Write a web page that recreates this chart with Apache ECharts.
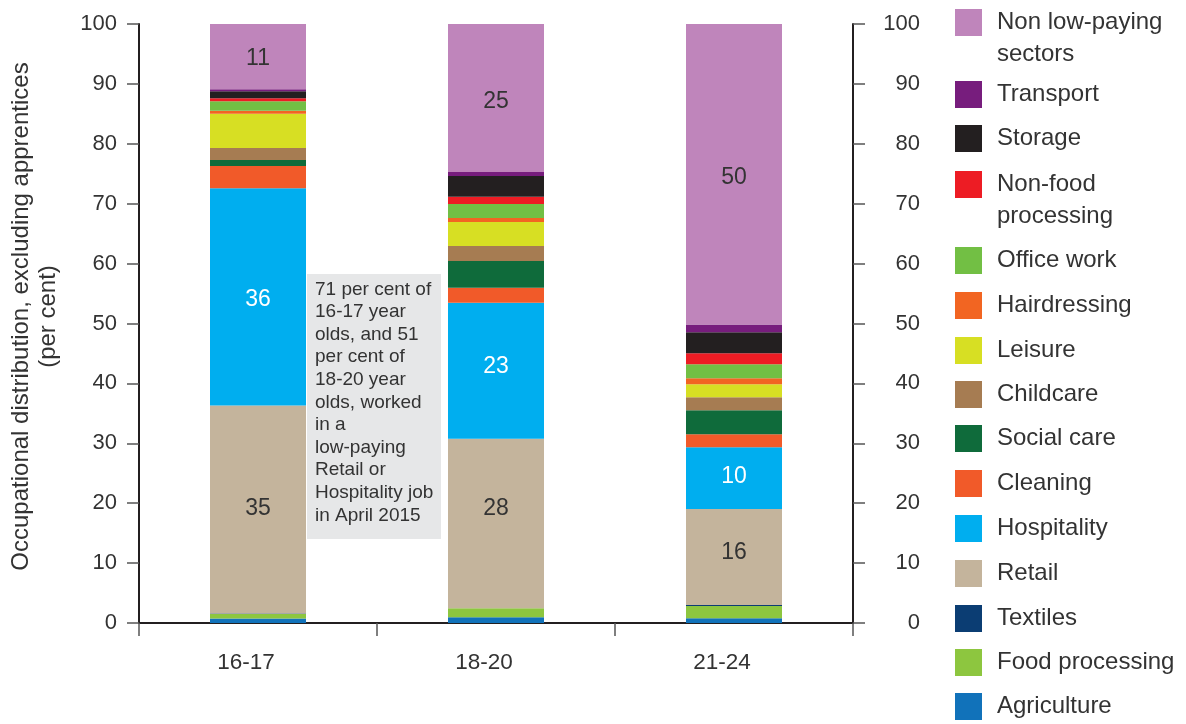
<!DOCTYPE html>
<html>
<head>
<meta charset="utf-8">
<script src="https://cdn.jsdelivr.net/npm/echarts@6/dist/echarts.min.js"></script>
<style>
html,body{margin:0;padding:0;background:#fff;}
#chart{width:1186px;height:724px;}
</style>
</head>
<body>
<div id="chart"></div>
<script>
const categories = ['16-17', '18-20', '21-24'];
const yTicks = { min: 0, max: 100, interval: 10 };

const agriculture    = [0.75, 0.95, 0.8];
const foodProcessing = [0.75, 1.5, 2.05];
const textiles       = [0.1, 0, 0.17];
const retail         = [34.7, 28.3, 16.0];
const hospitality    = [36.3, 22.7, 10.33];
const cleaning       = [3.7, 2.5, 2.17];
const socialCare     = [1.0, 4.5, 4.0];
const childcare      = [2.0, 2.5, 2.17];
const leisure        = [5.7, 4.0, 2.17];
const hairdressing   = [0.5, 0.67, 1.0];
const officeWork     = [1.6, 2.33, 2.33];
const nonFood        = [0.5, 1.22, 1.83];
const storage        = [1.17, 3.44, 3.5];
const transport      = [0.33, 0.67, 1.33];
const nonLowPaying   = [10.9, 24.72, 50.17];

const seriesNames = ['Agriculture','Food processing','Textiles','Retail','Hospitality','Cleaning','Social care','Childcare','Leisure','Hairdressing','Office work','Non-food processing','Storage','Transport','Non low-paying sectors'];
const seriesData = [agriculture, foodProcessing, textiles, retail, hospitality, cleaning, socialCare, childcare, leisure, hairdressing, officeWork, nonFood, storage, transport, nonLowPaying];
const seriesColors = ['#1172ba','#8dc63f','#0b3d73','#c4b49c','#00aeef','#f15a29','#0f6b3b','#a67c52','#d7df23','#f26522','#72bf44','#ed1c24','#231f20','#771d7d','#bf85bb'];
const labelled = { 'Retail': '#333333', 'Hospitality': '#ffffff', 'Non low-paying sectors': '#333333' };
// vertical nudges of the value labels (px), as placed in the original
const labelNudge = { 'Retail': [-1, -15, -4], 'Hospitality': [3, -4, -1], 'Non low-paying sectors': [2, 4, 3] };

const legendOrder = ['Non low-paying sectors','Transport','Storage','Non-food processing','Office work','Hairdressing','Leisure','Childcare','Social care','Cleaning','Hospitality','Retail','Textiles','Food processing','Agriculture'];
const legendFirstLine = { 'Non low-paying sectors': 'Non low-paying', 'Non-food processing': 'Non-food' };
const legendSecondLine = { 'Non low-paying sectors': 'sectors', 'Non-food processing': 'processing' };
const legendTops = [9, 81, 125, 171, 247, 292, 337, 381, 425, 470, 515, 560, 605, 649, 693];

const annotationLines = ['71 per cent of','16-17 year','olds, and 51','per cent of','18-20 year','olds, worked','in a','low-paying','Retail or','Hospitality job','in April 2015'];

const FONT = "'Liberation Sans', Arial, sans-serif";
const TXT = '#333333';

const chart = echarts.init(document.getElementById('chart'), null, { renderer: 'canvas' });

const series = seriesNames.map((name, i) => ({
  name: name,
  type: 'bar',
  stack: 'total',
  barWidth: 96,
  data: seriesData[i].map((v, j) => labelled[name]
    ? { value: v, label: { offset: [0, labelNudge[name][j]] } }
    : v),
  itemStyle: { color: seriesColors[i] },
  label: labelled[name] ? {
    show: true,
    position: 'inside',
    fontFamily: FONT,
    fontSize: 23,
    color: labelled[name],
    formatter: p => Math.round(p.value)
  } : { show: false },
  emphasis: { disabled: true }
}));

const legends = legendOrder.map((name, i) => ({
  data: [name],
  left: 955,
  top: legendTops[i],
  orient: 'vertical',
  padding: 0,
  itemWidth: 27,
  itemHeight: 27,
  icon: 'rect',
  selectedMode: false,
  formatter: n => legendFirstLine[n] || n,
  textStyle: { fontFamily: FONT, fontSize: 24, color: TXT, padding: [6, 0, 0, 10] }
}));

const graphics = [];
legendOrder.forEach((name, i) => {
  if (legendSecondLine[name]) {
    graphics.push({
      type: 'text', left: 997, top: legendTops[i] + 13.5 + 30 - 10,
      style: { text: legendSecondLine[name], font: '24px ' + FONT, fill: TXT }
    });
  }
});
graphics.push({
  type: 'rect', left: 307, top: 274, z: 10,
  shape: { width: 134, height: 265 },
  style: { fill: '#e6e7e8' }
});
graphics.push({
  type: 'text', left: 315, top: 278, z: 11,
  style: { text: annotationLines.join('\n'), font: '19px ' + FONT, fill: TXT, lineHeight: 22.6 }
});

const yAxisCommon = {
  type: 'value',
  min: yTicks.min, max: yTicks.max, interval: yTicks.interval,
  splitLine: { show: false },
  axisLine: { show: true, lineStyle: { color: '#231f20', width: 2 } },
  axisTick: { show: true, inside: false, length: 12, lineStyle: { color: '#555', width: 1.5 } }
};

chart.setOption({
  backgroundColor: '#ffffff',
  animation: false,
  grid: { left: 139, top: 24, width: 714, height: 599 },
  legend: legends,
  xAxis: {
    type: 'category',
    data: categories,
    axisLine: { show: true, lineStyle: { color: '#231f20', width: 2 } },
    axisTick: { show: true, alignWithLabel: false, length: 13, lineStyle: { color: '#555', width: 1.5 } },
    axisLabel: { fontFamily: FONT, fontSize: 22.5, color: TXT, margin: 28, padding: [0, 24, 0, 0] }
  },
  yAxis: [
    Object.assign({}, yAxisCommon, {
      position: 'left',
      name: 'Occupational distribution, excluding apprentices\n(per cent)',
      nameLocation: 'middle',
      nameRotate: 90,
      nameGap: 77,
      nameTextStyle: { fontFamily: FONT, fontSize: 24, color: TXT, lineHeight: 27, padding: [0, 0, 0, 14] },
      axisLabel: { fontFamily: FONT, fontSize: 22, color: TXT, margin: 22 }
    }),
    Object.assign({}, yAxisCommon, {
      position: 'right',
      axisLabel: { fontFamily: FONT, fontSize: 22, color: TXT, margin: 67, align: 'right' }
    })
  ],
  series: series,
  graphic: graphics
});
</script>
</body>
</html>
